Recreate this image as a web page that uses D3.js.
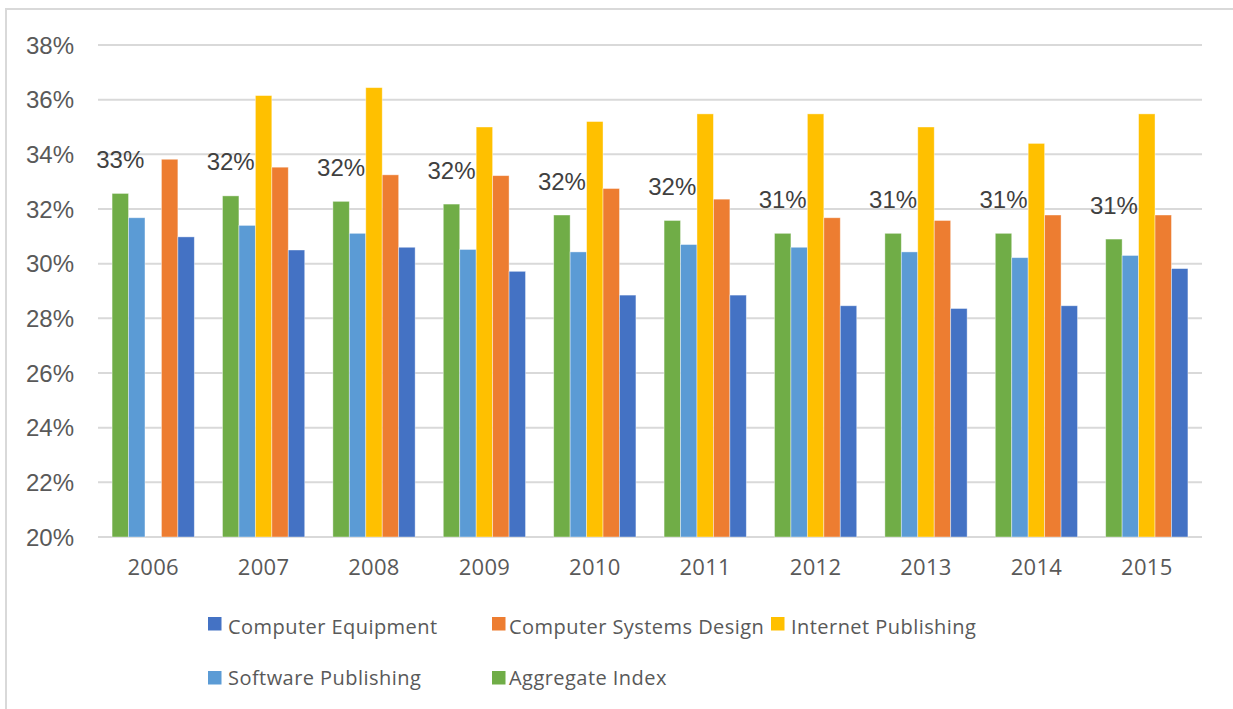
<!DOCTYPE html>
<meta charset="utf-8">
<style>
  body {
    margin: 0;
    padding: 0;
    background: #fff;
  }
  .grid line {
    stroke: #d9d9d9;
    stroke-width: 2px;
  }
  .ytick {
    font: 24px "Liberation Sans", Arial, sans-serif;
    fill: #595959;
  }
  .xtick {
    font: 22px "Open Sans", sans-serif;
    fill: #595959;
    letter-spacing: 0.3px;
  }
  .dlabel {
    font: 24px "Liberation Sans", Arial, sans-serif;
    fill: #404040;
  }
  .legend text {
    font: 20px "Open Sans", sans-serif;
    fill: #595959;
    letter-spacing: 0.45px;
  }
</style>
<script src="https://d3js.org/d3.v7.min.js"></script>
<body>
<div id="chart"></div>
<script>
  // years on the x axis
  let years = ["2006", "2007", "2008", "2009", "2010", "2011", "2012", "2013", "2014", "2015"];

  // series, in the order the bars sit inside each group
  let seriesNames = ["Aggregate Index", "Software Publishing", "Internet Publishing",
                     "Computer Systems Design", "Computer Equipment"];

  // values in percent (null = no bar)
  let aggregateIndex     = [32.57, 32.48, 32.28, 32.18, 31.78, 31.58, 31.11, 31.11, 31.11, 30.90];
  let softwarePublishing = [31.68, 31.40, 31.11, 30.52, 30.43, 30.70, 30.60, 30.43, 30.22, 30.30];
  let internetPublishing = [null,  36.15, 36.44, 35.00, 35.20, 35.48, 35.48, 35.00, 34.40, 35.48];
  let computerSysDesign  = [33.82, 33.53, 33.25, 33.22, 32.75, 32.36, 31.68, 31.58, 31.78, 31.78];
  let computerEquipment  = [30.98, 30.50, 30.60, 29.72, 28.85, 28.85, 28.46, 28.36, 28.46, 29.82];

  // y ticks
  let yTicks = [20, 22, 24, 26, 28, 30, 32, 34, 36, 38];

  // legend order (two rows)
  let legendNames = ["Computer Equipment", "Computer Systems Design", "Internet Publishing",
                     "Software Publishing", "Aggregate Index"];

  let color = d3.scaleOrdinal()
    .domain(["Computer Equipment", "Computer Systems Design", "Internet Publishing",
             "Software Publishing", "Aggregate Index"])
    .range(["#4472C4", "#ED7D31", "#FFC000", "#5B9BD5", "#70AD47"]);

  let seriesValues = {
    "Aggregate Index": aggregateIndex,
    "Software Publishing": softwarePublishing,
    "Internet Publishing": internetPublishing,
    "Computer Systems Design": computerSysDesign,
    "Computer Equipment": computerEquipment
  };

  let width = 1233, height = 709;
  let plot = {left: 98, right: 1202, top: 45, bottom: 537};

  let svg = d3.select("#chart")
    .append("svg")
    .attr("width", width)
    .attr("height", height);

  // 外框 (only top and left edges are inside the picture)
  svg.append("rect")
    .attr("x", 6)
    .attr("y", 9)
    .attr("width", width + 50)
    .attr("height", height + 50)
    .attr("fill", "none")
    .attr("stroke", "#d9d9d9")
    .attr("stroke-width", 2);

  // scales
  let x0 = d3.scaleBand()
    .domain(years)
    .range([plot.left, plot.right])
    .paddingInner(0.255)
    .paddingOuter(0.1275);

  let x1 = d3.scaleBand()
    .domain(seriesNames)
    .range([0, x0.bandwidth()]);

  let y = d3.scaleLinear()
    .domain([20, 38])
    .range([plot.bottom, plot.top]);

  // gridlines
  svg.append("g")
    .attr("class", "grid")
    .selectAll("line")
    .data(yTicks)
    .join("line")
    .attr("x1", plot.left)
    .attr("x2", plot.right)
    .attr("y1", d => y(d))
    .attr("y2", d => y(d));

  // y axis labels
  svg.append("g")
    .selectAll("text")
    .data(yTicks)
    .join("text")
    .attr("class", "ytick")
    .attr("x", 74)
    .attr("y", d => y(d) + 8.6)
    .attr("text-anchor", "end")
    .text(d => d + "%");

  // x axis labels
  svg.append("g")
    .selectAll("text")
    .data(years)
    .join("text")
    .attr("class", "xtick")
    .attr("x", d => x0(d) + x0.bandwidth() / 2)
    .attr("y", 575)
    .attr("text-anchor", "middle")
    .text(d => d);

  // bars
  let groups = svg.append("g")
    .selectAll("g")
    .data(years)
    .join("g")
    .attr("transform", d => `translate(${x0(d)},0)`);

  groups.selectAll("rect")
    .data((yr, i) => seriesNames
      .map(s => ({series: s, value: seriesValues[s][i]}))
      .filter(d => d.value !== null))
    .join("rect")
    .attr("x", d => x1(d.series))
    .attr("width", x1.bandwidth())
    .attr("y", d => y(d.value))
    .attr("height", d => y(20) - y(d.value))
    .attr("fill", d => color(d.series))
    .attr("stroke", "#fff")
    .attr("stroke-opacity", 0.5)
    .attr("stroke-width", 0.8);

  // data labels for the aggregate index
  svg.append("g")
    .selectAll("text")
    .data(years)
    .join("text")
    .attr("class", "dlabel")
    .attr("x", d => x0(d) + x1("Aggregate Index") + x1.bandwidth() / 2)
    .attr("y", (d, i) => y(aggregateIndex[i]) - 25.5)
    .attr("text-anchor", "middle")
    .text((d, i) => Math.round(aggregateIndex[i]) + "%");

  // legend
  let legendPos = [
    {sx: 208, tx: 228, sy: 617, ty: 634},
    {sx: 492, tx: 509, sy: 617, ty: 634},
    {sx: 771, tx: 791, sy: 617, ty: 634},
    {sx: 208, tx: 228, sy: 671, ty: 685},
    {sx: 492, tx: 509, sy: 671, ty: 685}
  ];

  let legend = svg.append("g").attr("class", "legend");

  legend.selectAll("rect")
    .data(legendNames)
    .join("rect")
    .attr("x", (d, i) => legendPos[i].sx)
    .attr("y", (d, i) => legendPos[i].sy)
    .attr("width", 13.5)
    .attr("height", 13.5)
    .attr("fill", d => color(d));

  legend.selectAll("text")
    .data(legendNames)
    .join("text")
    .attr("x", (d, i) => legendPos[i].tx)
    .attr("y", (d, i) => legendPos[i].ty)
    .text(d => d);
</script>
</body>
